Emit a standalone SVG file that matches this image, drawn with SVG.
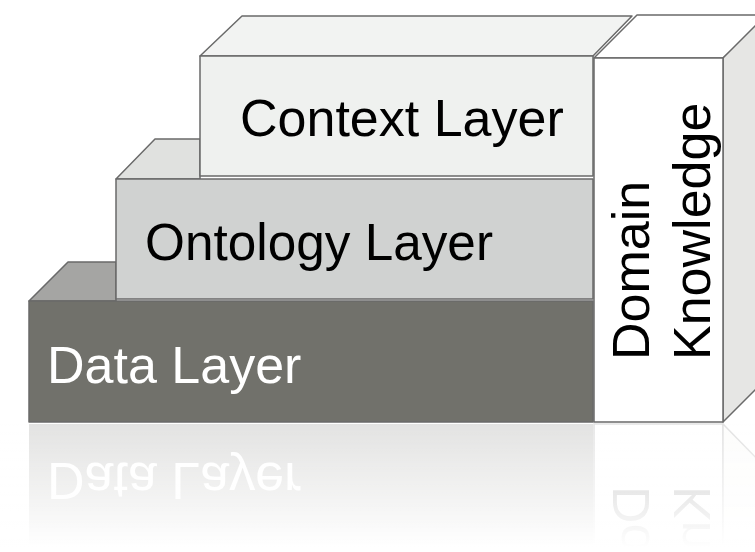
<svg xmlns="http://www.w3.org/2000/svg" width="755" height="552" viewBox="0 0 755 552">
<defs>
<style>
.edge{stroke:#6a6a6a;stroke-width:1.5;stroke-linejoin:round}
.lbl{font-family:"Liberation Sans",Arial,sans-serif;font-size:52px}
</style>
<linearGradient id="refl" gradientUnits="userSpaceOnUse" x1="0" y1="424" x2="0" y2="548">
<stop offset="0" stop-color="#ffffff" stop-opacity="0.05"/>
<stop offset="0.6" stop-color="#ffffff" stop-opacity="0.6"/>
<stop offset="1" stop-color="#ffffff" stop-opacity="1"/>
</linearGradient>
</defs>
<rect width="755" height="552" fill="#ffffff"/>

<g id="reflection">
<g transform="translate(0,846) scale(1,-1)" opacity="0.2">
<rect x="29" y="301" width="564" height="121" fill="#71716b"/>
<text class="lbl" x="47" y="383" fill="#ffffff">Data Layer</text>
<rect x="594" y="301" width="129" height="121" fill="#ffffff" stroke="#6a6a6a" stroke-width="1.5"/>
<path d="M723,422 L765,379 L765,301 L723,301 Z" fill="#f2f2f0" stroke="#6a6a6a" stroke-width="1.5"/>
<g transform="translate(649,360) rotate(-90)"><text class="lbl" x="0" y="0" fill="#000">Domain</text></g>
<g transform="translate(710,360) rotate(-90)"><text class="lbl" x="0" y="0" fill="#000">Knowledge</text></g>
</g>
<rect x="0" y="423" width="755" height="129" fill="url(#refl)"/>
</g>

<g id="data-layer">
<path class="edge" d="M29,301 L68,262 L116,262 L116,301 Z" fill="#a5a5a3"/>
<rect class="edge" x="29" y="301" width="564" height="121" fill="#71716b"/>
<text class="lbl" x="47" y="383" fill="#ffffff">Data Layer</text>
</g>

<g id="ontology-layer">
<path class="edge" d="M116,179 L155,139 L200,139 L200,179 Z" fill="#e0e1df"/>
<rect class="edge" x="116" y="179" width="477" height="120" fill="#d0d2d1"/>
<text class="lbl" x="145" y="260" fill="#000000" textLength="348" lengthAdjust="spacingAndGlyphs">Ontology Layer</text>
</g>

<g id="context-layer">
<path class="edge" d="M200,56 L242,16 L632,16 L593,56 Z" fill="#f2f3f2"/>
<rect class="edge" x="200" y="56" width="393" height="120" fill="#eff1ef"/>
<text class="lbl" x="240" y="136" fill="#000000">Context Layer</text>
</g>

<g id="domain-knowledge">
<path class="edge" d="M594,58 L637,15 L770,15 L723,58 Z" fill="#ffffff"/>
<path class="edge" d="M723,58 L766,15 L766,379 L723,422 Z" fill="#e6e6e4"/>
<rect class="edge" x="594" y="58" width="129" height="364" fill="#ffffff"/>
<g transform="translate(649,360) rotate(-90)"><text class="lbl" x="0" y="0" fill="#000000">Domain</text></g>
<g transform="translate(710,360) rotate(-90)"><text class="lbl" x="0" y="0" fill="#000000">Knowledge</text></g>
</g>

<g id="connectors"></g>
</svg>
